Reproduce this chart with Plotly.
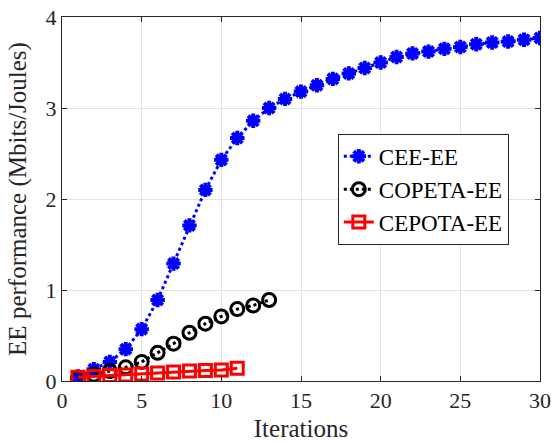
import plotly.graph_objects as go

iters_cee = list(range(1, 31))
cee_ee = [0.05, 0.13, 0.21, 0.35, 0.57, 0.89, 1.29, 1.71, 2.10, 2.43,
          2.67, 2.86, 3.00, 3.10, 3.18, 3.25, 3.32, 3.38, 3.44, 3.50,
          3.56, 3.60, 3.62, 3.65, 3.67, 3.70, 3.72, 3.73, 3.75, 3.77]
iters_copeta = list(range(1, 14))
copeta_ee = [0.03, 0.07, 0.11, 0.15, 0.21, 0.31, 0.41, 0.53, 0.63, 0.71, 0.79, 0.83, 0.89]
iters_cepota = list(range(1, 12))
cepota_ee = [0.04, 0.05, 0.06, 0.065, 0.077, 0.088, 0.10, 0.11, 0.115, 0.12, 0.14]

x_ticks = [0, 5, 10, 15, 20, 25, 30]
y_ticks = [0, 1, 2, 3, 4]

font = "Liberation Serif, Times New Roman, serif"
txt = "#262626"

fig = go.Figure()
fig.add_trace(go.Scatter(
    x=iters_cee, y=cee_ee, name="CEE-EE", mode="lines+markers",
    line=dict(color="#0000ff", width=3, dash="dot"),
    marker=dict(symbol="asterisk-open", size=12, color="#0000ff",
                line=dict(color="#0000ff", width=4)),
))
fig.add_trace(go.Scatter(
    x=iters_copeta, y=copeta_ee, name="COPETA-EE", mode="lines+markers",
    line=dict(color="black", width=3, dash="dot"),
    marker=dict(symbol="circle-open", size=13, color="black",
                line=dict(color="black", width=3)),
))
fig.add_trace(go.Scatter(
    x=iters_cepota, y=cepota_ee, name="CEPOTA-EE", mode="lines+markers",
    line=dict(color="red", width=3),
    marker=dict(symbol="square-open", size=12, color="red",
                line=dict(color="red", width=3)),
))

axis_common = dict(
    showline=True, linecolor=txt, linewidth=1, mirror="ticks",
    ticks="inside", ticklen=5, tickcolor=txt,
    showgrid=True, gridcolor="#e3e3e3", gridwidth=1, zeroline=False,
    tickfont=dict(family=font, size=22, color=txt),
    ticklabeloverflow="allow",
    automargin=False,
)

fig.update_layout(
    width=556, height=444,
    margin=dict(l=62, r=16, t=17, b=63),
    paper_bgcolor="white", plot_bgcolor="white",
    font=dict(family=font, color=txt),
    xaxis=dict(range=[0, 30], tickvals=x_ticks,
               title=dict(text="Iterations", font=dict(family=font, size=25, color=txt), standoff=7),
               **axis_common),
    yaxis=dict(range=[0, 4], tickvals=y_ticks,
               title=dict(text="EE performance (Mbits/Joules)", font=dict(family=font, size=25, color=txt), standoff=11),
               **axis_common),
    legend=dict(x=0.577, y=0.679, xanchor="left", yanchor="top",
                bgcolor="white", bordercolor=txt, borderwidth=1,
                font=dict(family=font, size=23, color="black"),
                itemwidth=30, tracegroupgap=0),
    showlegend=True,
)

# remove the browser's default 8px body margin so the figure fills the window exactly
fig.write_html("out.html", config={"displayModeBar": False},
               post_script="document.body.style.margin='0';")
